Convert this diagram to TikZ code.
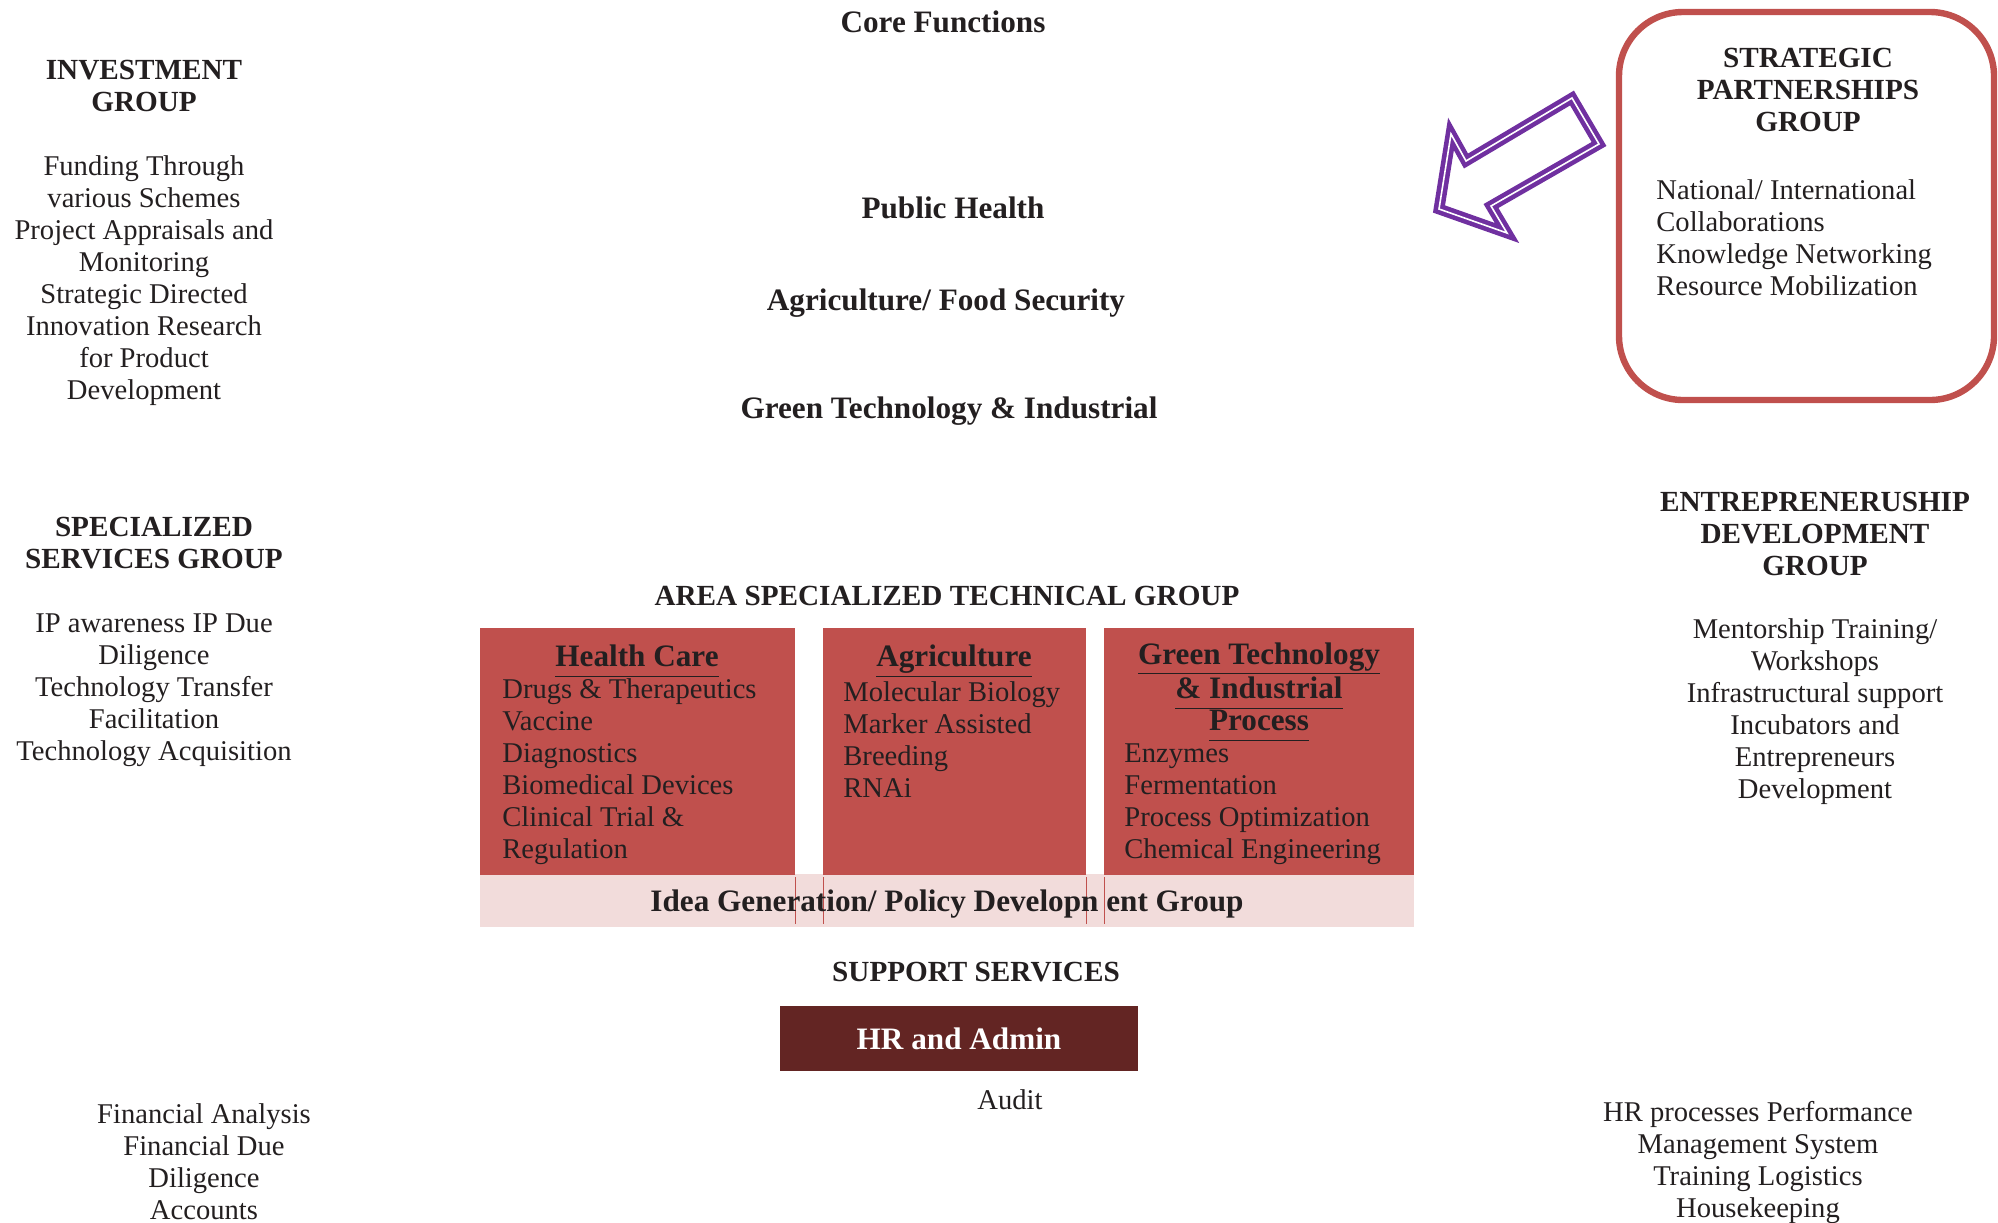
\documentclass[tikz,border=0pt]{standalone}
\usepackage{fontspec}
\setmainfont{Liberation Serif}
\newcommand{\ul}[1]{\underline{#1\vphantom{gy}}}
\begin{document}
\begin{tikzpicture}[x=0.5pt,y=-0.5pt,
  txt/.style={inner sep=0pt, text=ink, align=center, font={\fontsize{14.3}{16}\selectfont}},
  ltxt/.style={inner sep=0pt, text=ink, align=left, anchor=west, font={\fontsize{14.3}{16}\selectfont}},
  capshead/.style={inner sep=0pt, text=ink, align=center, font={\fontsize{14.6}{16}\selectfont\bfseries}},
  head/.style={inner sep=0pt, text=ink, align=center, font={\fontsize{15.6}{16}\selectfont\bfseries}},
]
\definecolor{ink}{HTML}{231F20}
\definecolor{boxred}{HTML}{C0504D}
\definecolor{bandpink}{HTML}{F2DCDB}
\definecolor{maroon}{HTML}{632523}
\definecolor{arrowpurple}{HTML}{7030A0}
\useasboundingbox (0,0) rectangle (1998,1222);

% Core functions column
\node[head] (core) at (943,22) {Core Functions};
\node[head] (ph) at (953,208) {Public Health};
\node[head] (agri) at (946,303) {Agriculture/ Food Security};
\node[head] (green) at (949,411) {Green Technology \& Industrial};

% Investment group
\node[capshead] (invT) at (144,86) {INVESTMENT\\GROUP};
\node[txt] (invB) at (144,280.5) {Funding Through\\various Schemes\\Project Appraisals and\\Monitoring\\Strategic Directed\\Innovation Research\\for Product\\Development};

% Strategic partnerships
\draw[draw=boxred, line width=3.2pt, rounded corners=32pt] (1619,12) rectangle (1994,400);
\node[capshead] (spT) at (1808,90) {STRATEGIC\\PARTNERSHIPS\\GROUP};
\node[ltxt] (spB) at (1656,237.5) {National/ International\\Collaborations\\Knowledge Networking\\Resource Mobilization};

% Arrow
\coordinate (a1) at (1572,98);
\coordinate (a2) at (1599,144);
\coordinate (a3) at (1491,206);
\coordinate (a4) at (1507,233);
\coordinate (a5) at (1439,209);
\coordinate (a6) at (1451,134);
\coordinate (a7) at (1466,161);
\draw[arrowpurple, line width=5.4pt, line join=miter] (a1) -- (a2) -- (a3) -- (a4) -- (a5) -- (a6) -- (a7) -- cycle;
\draw[white, line width=0.8pt, line join=miter] (a1) -- (a2) -- (a3) -- (a4) -- (a5) -- (a6) -- (a7) -- cycle;

% Specialized services
\node[capshead] (ssT) at (154,543) {SPECIALIZED\\SERVICES GROUP};
\node[txt] (ssB) at (154,690) {IP awareness IP Due\\Diligence\\Technology Transfer\\Facilitation\\Technology Acquisition};

% Entrepreneurship
\node[capshead] (edT) at (1815,534) {ENTREPRENERUSHIP\\DEVELOPMENT\\GROUP};
\node[txt] (edB) at (1815,712) {Mentorship Training/\\Workshops\\Infrastructural support\\Incubators and\\Entrepreneurs\\Development};

% Area specialized technical group
\node[capshead] (area) at (947,596) {AREA SPECIALIZED TECHNICAL GROUP};
\fill[bandpink] (480,874) rectangle (1414,927);
\fill[boxred] (480,628) rectangle (795,875);
\fill[boxred] (823,628) rectangle (1086,875);
\fill[boxred] (1104,628) rectangle (1414,875);
\foreach \xx in {795,823,1086,1104} {\draw[boxred, line width=0.5pt] (\xx,877) -- (\xx,924);}

\node[head] (hcT) at (637,661) {\ul{Health Care}};
\node[ltxt] (hcB) at (502,772) {Drugs \& Therapeutics\\Vaccine\\Diagnostics\\Biomedical Devices\\Clinical Trial \&\\Regulation};
\node[head] (agT) at (954,661) {\ul{Agriculture}};
\node[ltxt] (agB) at (843,740) {Molecular Biology\\Marker Assisted\\Breeding\\RNAi};
\node[head] (gtT) at (1259,692) {\ul{Green Technology}\\\ul{\& Industrial}\\\ul{Process}};
\node[ltxt] (gtB) at (1124,804) {Enzymes\\Fermentation\\Process Optimization\\Chemical Engineering};
\node[head] (idea) at (947,904) {Idea Generation/ Policy Developn ent Group};

% Support services
\node[capshead] (sup) at (976,972) {SUPPORT SERVICES};
\fill[maroon] (780,1006) rectangle (1138,1071);
\node[head, text=white] (hr) at (959,1039) {HR and Admin};
\node[txt] (audit) at (1010,1100) {Audit};

% Bottom lists
\node[txt] (finB) at (204,1161.5) {Financial Analysis\\Financial Due\\Diligence\\Accounts};
\node[txt] (hrB) at (1758,1162) {HR processes Performance\\Management System\\Training Logistics\\Housekeeping};
\end{tikzpicture}
\end{document}
